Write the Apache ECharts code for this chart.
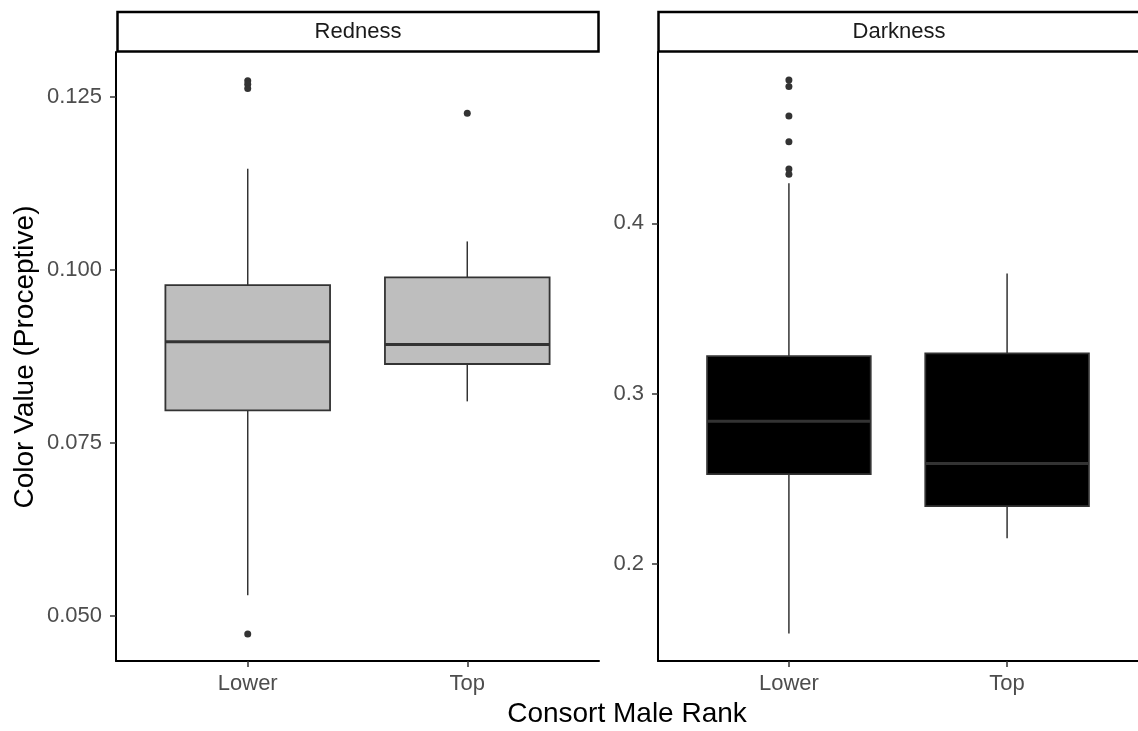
<!DOCTYPE html>
<html>
<head>
<meta charset="utf-8">
<script src="https://cdn.jsdelivr.net/npm/echarts@6/dist/echarts.min.js"></script>
<style>
    html, body { margin: 0; padding: 0; background: #fff; }
    #chart { width: 1138px; height: 731px; }
</style>
</head>
<body>
<div id="chart"></div>
<script>
// categories on the x axis of both facets
const rankCats = ["Lower", "Top"];

// box stats per rank: [lower whisker, Q1, median, Q3, upper whisker]
const rednessBox = [
    [0.0530, 0.0797, 0.0896, 0.0978, 0.1146],
    [0.0810, 0.0864, 0.0892, 0.0989, 0.1041]
];
const darknessBox = [
    [0.1593, 0.2528, 0.2839, 0.3221, 0.4235],
    [0.2151, 0.2340, 0.2591, 0.3237, 0.3706]
];

// outliers: [rank index, value]
const rednessOutliers = [[0, 0.1273], [0, 0.1268], [0, 0.1262], [0, 0.0474], [1, 0.1226]];
const darknessOutliers = [[0, 0.4841], [0, 0.4803], [0, 0.4630], [0, 0.4479], [0, 0.4319], [0, 0.4288]];

// y tick labels
const rednessTicks = [0.05, 0.075, 0.1, 0.125];
const darknessTicks = [0.2, 0.3, 0.4];

const FONT = "'Liberation Sans', Arial, sans-serif";
const chart = echarts.init(document.getElementById("chart"), null, { renderer: "canvas" });

function boxData(stats) {
    return stats.map((s, i) => [i + 1].concat(s));
}
function outlierData(pts) {
    return pts.map(p => [p[0] + 1, p[1]]);
}

function makeRender(fill) {
    return function (params, api) {
        const x = api.value(0);
        const lo = api.coord([x, api.value(1)]);
        const q1 = api.coord([x, api.value(2)]);
        const med = api.coord([x, api.value(3)]);
        const q3 = api.coord([x, api.value(4)]);
        const hi = api.coord([x, api.value(5)]);
        const half = api.coord([x + 0.375, api.value(3)])[0] - med[0];
        const line = { stroke: "#333333", lineWidth: 1.5 };
        return {
            type: "group",
            children: [
                { type: "line", shape: { x1: hi[0], y1: hi[1], x2: q3[0], y2: q3[1] }, style: line },
                { type: "line", shape: { x1: q1[0], y1: q1[1], x2: lo[0], y2: lo[1] }, style: line },
                {
                    type: "rect",
                    shape: { x: med[0] - half, y: q3[1], width: half * 2, height: q1[1] - q3[1] },
                    style: { fill: fill, stroke: "#333333", lineWidth: 1.8 }
                },
                {
                    type: "line",
                    shape: { x1: med[0] - half, y1: med[1], x2: med[0] + half, y2: med[1] },
                    style: { stroke: "#333333", lineWidth: 3 }
                }
            ]
        };
    };
}

function xAxis(idx) {
    return {
        type: "value",
        gridIndex: idx,
        min: 0.4,
        max: 2.6,
        axisLine: { show: true, onZero: false, lineStyle: { color: "#000", width: 2 } },
        axisTick: { show: true, customValues: [1, 2], length: 6, lineStyle: { color: "#333", width: 1.5 } },
        axisLabel: {
            customValues: [1, 2],
            formatter: v => rankCats[Math.round(v) - 1],
            color: "#4D4D4D",
            fontSize: 22,
            fontFamily: FONT,
            margin: 12
        },
        splitLine: { show: false }
    };
}

function yAxis(idx, min, max, ticks, digits) {
    return {
        type: "value",
        gridIndex: idx,
        min: min,
        max: max,
        axisLine: { show: true, lineStyle: { color: "#000", width: 2 } },
        axisTick: { show: true, customValues: ticks, length: 6, lineStyle: { color: "#333", width: 1.5 } },
        axisLabel: {
            customValues: ticks,
            formatter: v => v.toFixed(digits),
            color: "#4D4D4D",
            fontSize: 22,
            fontFamily: FONT,
            margin: 14
        },
        splitLine: { show: false }
    };
}

function strip(x, w, label, cx) {
    return [
        {
            type: "rect",
            shape: { x: x, y: 12, width: w, height: 39.5 },
            style: { fill: "#fff", stroke: "#000", lineWidth: 2.5 }
        },
        {
            type: "text",
            x: cx,
            y: 31.5,
            style: {
                text: label,
                fill: "#1A1A1A",
                font: "22px " + FONT,
                align: "center",
                verticalAlign: "middle"
            }
        }
    ];
}

const option = {
    backgroundColor: "#fff",
    animation: false,
    grid: [
        { left: 116, top: 52, width: 483, height: 609 },
        { left: 658, top: 52, width: 483, height: 609 }
    ],
    xAxis: [xAxis(0), xAxis(1)],
    yAxis: [
        yAxis(0, 0.0435, 0.13146, rednessTicks, 3),
        yAxis(1, 0.1431, 0.5006, darknessTicks, 1)
    ],
    graphic: [
        ...strip(117.5, 481, "Redness", 358),
        ...strip(658.5, 490, "Darkness", 899),
        {
            type: "text",
            x: 25,
            y: 357,
            rotation: Math.PI / 2,
            style: {
                text: "Color Value (Proceptive)",
                fill: "#000",
                font: "28px " + FONT,
                align: "center",
                verticalAlign: "middle"
            }
        },
        {
            type: "text",
            x: 627,
            y: 714,
            style: {
                text: "Consort Male Rank",
                fill: "#000",
                font: "28px " + FONT,
                align: "center",
                verticalAlign: "middle"
            }
        }
    ],
    series: [
        {
            type: "custom",
            xAxisIndex: 0,
            yAxisIndex: 0,
            renderItem: makeRender("#BEBEBE"),
            encode: { x: 0, y: [1, 2, 3, 4, 5] },
            data: boxData(rednessBox)
        },
        {
            type: "custom",
            xAxisIndex: 1,
            yAxisIndex: 1,
            renderItem: makeRender("#000000"),
            encode: { x: 0, y: [1, 2, 3, 4, 5] },
            data: boxData(darknessBox)
        },
        {
            type: "scatter",
            xAxisIndex: 0,
            yAxisIndex: 0,
            symbolSize: 7,
            itemStyle: { color: "#333333", opacity: 1 },
            data: outlierData(rednessOutliers)
        },
        {
            type: "scatter",
            xAxisIndex: 1,
            yAxisIndex: 1,
            symbolSize: 7,
            itemStyle: { color: "#333333", opacity: 1 },
            data: outlierData(darknessOutliers)
        }
    ]
};

chart.setOption(option);
</script>
</body>
</html>
